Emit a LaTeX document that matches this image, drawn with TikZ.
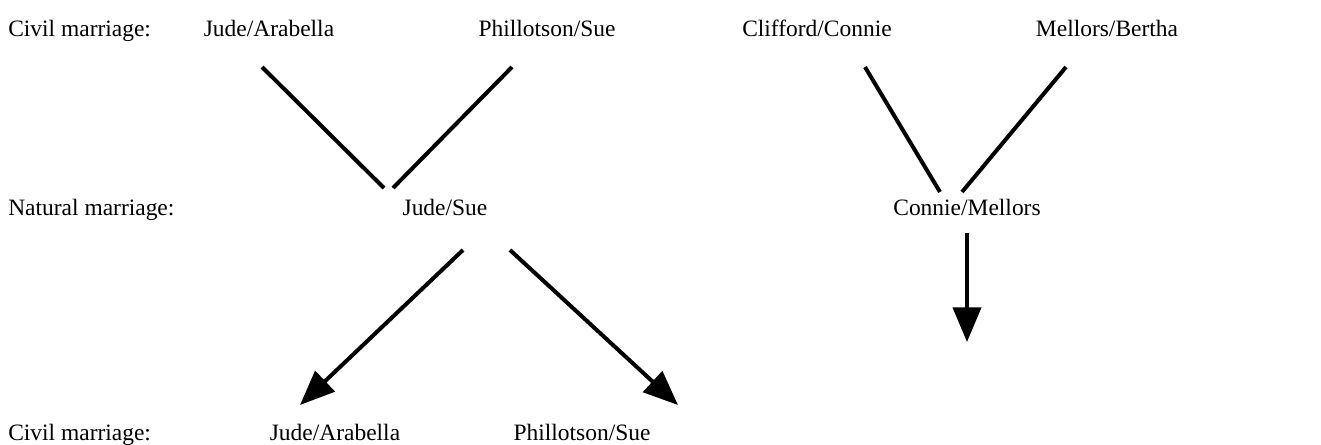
\documentclass[tikz,border=0pt]{standalone}
\usepackage{fontspec}
\setmainfont{Liberation Serif}
\usetikzlibrary{arrows.meta}
\begin{document}
\begin{tikzpicture}[x=0.75pt,y=-0.75pt,
  lbl/.style={inner sep=0pt,font=\fontsize{17.6}{20}\selectfont},
  conn/.style={line width=3pt},
  arr/.style={line width=3pt,-{Triangle[length=26pt,width=21pt]}}]
\useasboundingbox (0,0) rectangle (1321,444);
% row labels
\node[lbl,anchor=base west] (L1) at (8,36) {Civil marriage:};
\node[lbl,anchor=base west] (L2) at (8,215) {Natural marriage:};
\node[lbl,anchor=base west] (L3) at (8,440) {Civil marriage:};
% top row
\node[lbl,anchor=base] (JA1) at (269,36) {Jude/Arabella};
\node[lbl,anchor=base] (PS1) at (547,36) {Phillotson/Sue};
\node[lbl,anchor=base] (CC) at (817,36) {Clifford/Connie};
\node[lbl,anchor=base] (MB) at (1107,36) {Mellors/Bertha};
% middle row
\node[lbl,anchor=base] (JS) at (445,215) {Jude/Sue};
\node[lbl,anchor=base] (CM) at (967,215) {Connie/Mellors};
% bottom row
\node[lbl,anchor=base] (JA2) at (335,440) {Jude/Arabella};
\node[lbl,anchor=base] (PS2) at (582,440) {Phillotson/Sue};
% connector ends
\coordinate (a1) at (262,67);  \coordinate (a2) at (384,188);
\coordinate (b1) at (512,67);  \coordinate (b2) at (393,188);
\coordinate (c1) at (463,250); \coordinate (c2) at (300,405);
\coordinate (d1) at (510,250); \coordinate (d2) at (678,405);
\coordinate (e1) at (865,67);  \coordinate (e2) at (940,192);
\coordinate (f1) at (1066,67); \coordinate (f2) at (962,192);
\coordinate (g1) at (967,233); \coordinate (g2) at (967,342);
\draw[conn] (a1) -- (a2);
\draw[conn] (b1) -- (b2);
\draw[arr] (c1) -- (c2);
\draw[arr] (d1) -- (d2);
\draw[conn] (e1) -- (e2);
\draw[conn] (f1) -- (f2);
\draw[arr] (g1) -- (g2);
\end{tikzpicture}
\end{document}
